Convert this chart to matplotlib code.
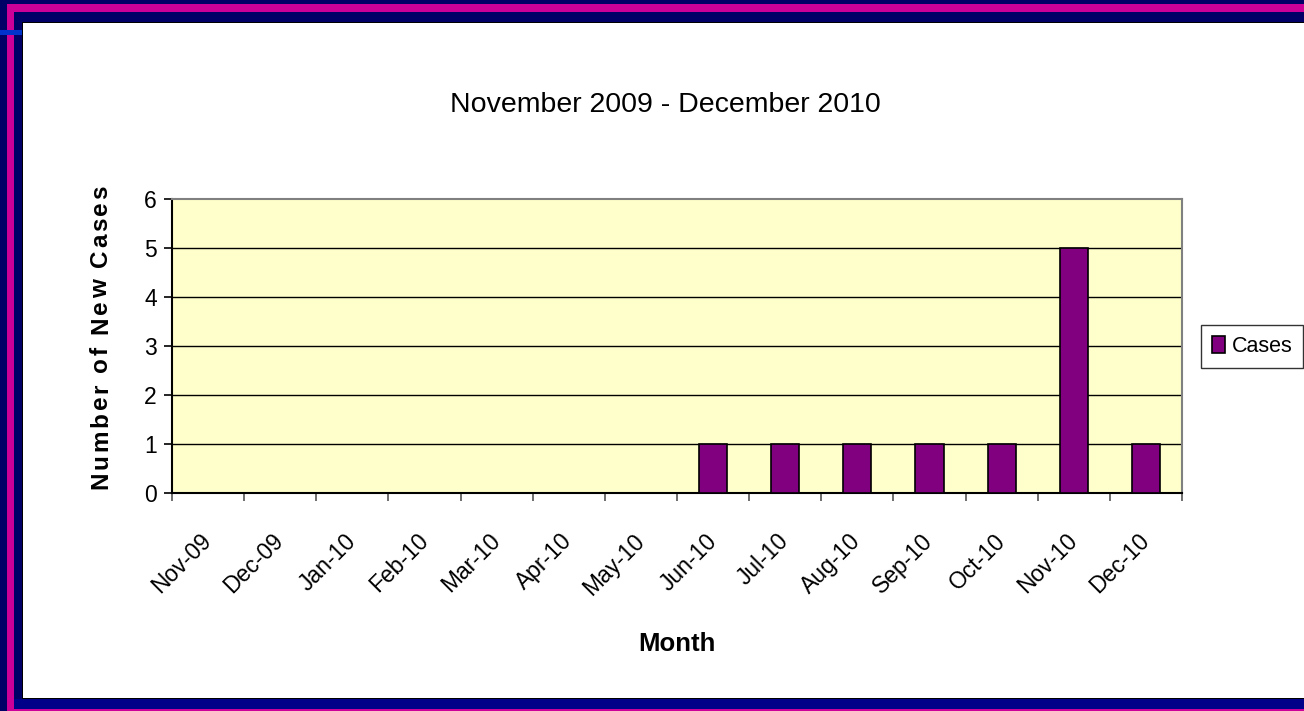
import matplotlib
matplotlib.use("Agg")
import matplotlib.pyplot as plt
from matplotlib.patches import Rectangle, Patch

months = ["Nov-09", "Dec-09", "Jan-10", "Feb-10", "Mar-10", "Apr-10", "May-10",
          "Jun-10", "Jul-10", "Aug-10", "Sep-10", "Oct-10", "Nov-10", "Dec-10"]
cases = [0, 0, 0, 0, 0, 0, 0, 1, 1, 1, 1, 1, 5, 1]
series_name = "Cases"
title = "November 2009 - December 2010"
xlabel = "Month"
ylabel = "Number of New Cases"
yticks = [0, 1, 2, 3, 4, 5, 6]

W, H = 1304, 711
plt.rcParams['font.family'] = ['Liberation Sans', 'DejaVu Sans']
fig = plt.figure(figsize=(W / 100, H / 100), dpi=100)
fig.patch.set_facecolor('#000066')


def rect(x0, y0, x1, y1, color, z=0):
    fig.patches.append(Rectangle((x0 / W, 1 - y1 / H), (x1 - x0) / W, (y1 - y0) / H,
                                 transform=fig.transFigure, facecolor=color,
                                 edgecolor='none', zorder=z))


# decorative frame
rect(7, 4, W, 12, '#CC0099')
rect(7, 4, 14, H, '#CC0099')
rect(7, 709, W, H, '#CC0099')
rect(14, 699, W, 709, '#000088')
rect(0, 30, 22, 35, '#0033CC', 1)
rect(22, 22, W, 699, '#000000', 1)
rect(23, 23, W, 698, '#FFFFFF', 2)

# axes
L, R, T, B = 172, 1182, 199, 493
ax = fig.add_axes([L / W, 1 - B / H, (R - L) / W, (B - T) / H])
ax.set_zorder(5)
ax.set_facecolor('#FFFFCC')
n = len(months)
xs = [i + 0.5 for i in range(n)]
ax.bar(xs, cases, width=0.39, color='#800080', edgecolor='black', linewidth=1.2, zorder=3)
ax.set_xlim(0, n)
ax.set_ylim(0, 6)
ax.set_yticks(yticks)
ax.set_yticklabels([str(v) for v in yticks], fontsize=16.5)
for v in yticks[1:-1]:
    ax.axhline(v, color='black', linewidth=1.0, zorder=1)
ax.set_xticks(range(n + 1))
ax.set_xticklabels([])
ax.set_xticks(xs, minor=True)
ax.set_xticklabels(months, minor=True, rotation=45, ha='right', va='center',
                   rotation_mode='anchor', fontsize=16.5)
ax.tick_params(axis='x', which='minor', length=0, pad=32)
ax.tick_params(axis='x', which='major', length=6, width=1.2, color='#555555', direction='out')
ax.tick_params(axis='y', length=6, width=1.2, color='black', direction='out', pad=5)
for s in ['top', 'right']:
    ax.spines[s].set_color('#808080')
    ax.spines[s].set_linewidth(1.5)
for s in ['left', 'bottom']:
    ax.spines[s].set_color('black')
    ax.spines[s].set_linewidth(1.5)

fig.text(665 / W, 1 - 105 / H, title, ha='center', va='center', fontsize=20.5, zorder=6)
fig.text(677 / W, 1 - 644 / H, xlabel, ha='center', va='center', fontsize=18.5,
         fontweight='bold', zorder=6)

# letter-spaced y label
renderer = fig.canvas.get_renderer()
fs_y = 17.5
spacing = 2.6
widths = []
for ch in ylabel:
    t = fig.text(0, 0, ch if ch != ' ' else 'n', fontsize=fs_y, fontweight='bold')
    bb = t.get_window_extent(renderer)
    w = bb.width if ch != ' ' else bb.width * 0.45
    widths.append(w)
    t.remove()
total = sum(widths) + spacing * (len(ylabel) - 1)
ycur = 337 + total / 2  # pixel from top, bottom end
for ch, w in zip(ylabel, widths):
    if ch != ' ':
        fig.text(101 / W, 1 - ycur / H, ch, rotation=90, ha='center', va='bottom',
                 fontsize=fs_y, fontweight='bold', zorder=6)
    ycur -= w + spacing

handle = Patch(facecolor='#800080', edgecolor='black', linewidth=1.2)
leg = fig.legend([handle], [series_name], loc='center left',
                 bbox_to_anchor=(1201 / W, 1 - 346.5 / H), bbox_transform=fig.transFigure,
                 fontsize=15.5, frameon=True, fancybox=False, edgecolor='black',
                 handlelength=0.62, handleheight=0.8, handletextpad=0.3,
                 borderpad=0.5, borderaxespad=0)
leg.get_frame().set_linewidth(1.0)
leg.set_zorder(6)

fig.savefig('out.png', dpi=100)
